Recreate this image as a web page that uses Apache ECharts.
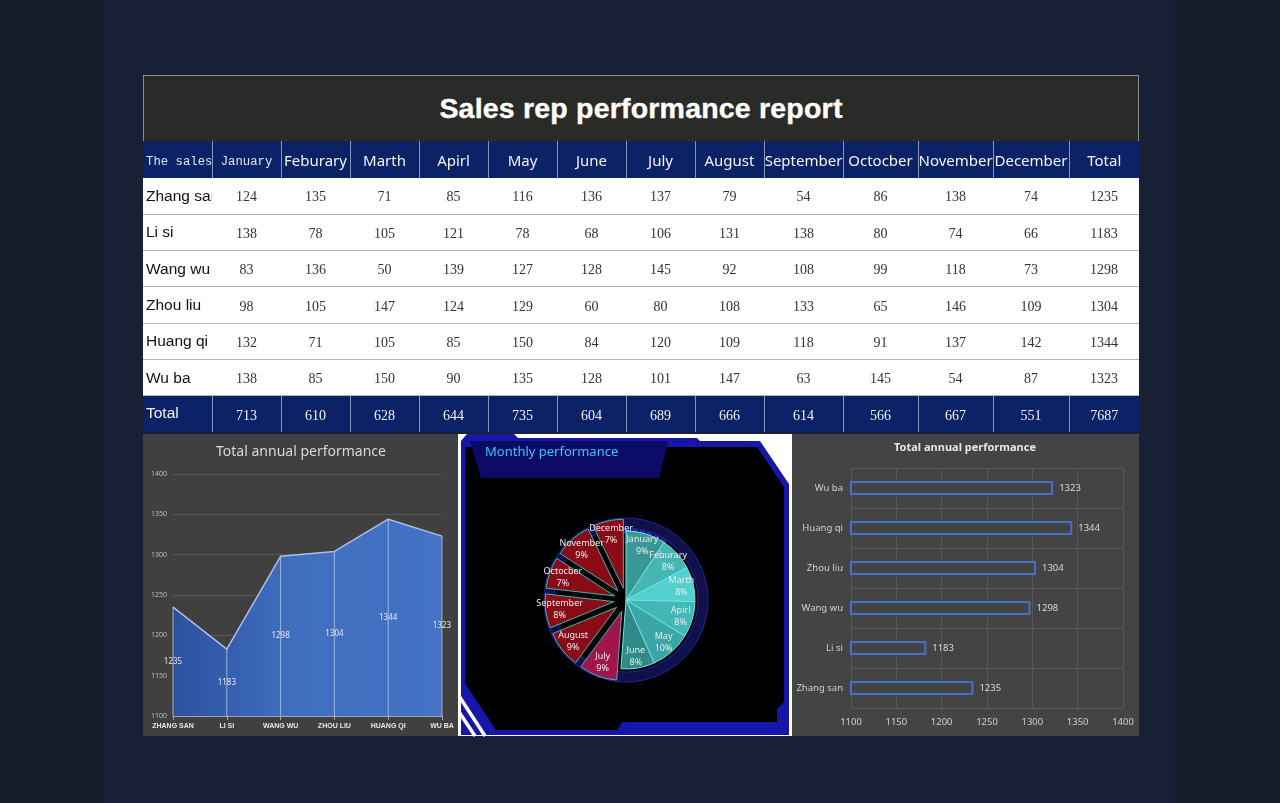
<!DOCTYPE html>
<html>
<head>
<meta charset="utf-8">
<script src="https://cdn.jsdelivr.net/npm/echarts/dist/echarts.min.js"></script>
<style>
html,body{margin:0;padding:0;width:1280px;height:803px;overflow:hidden;background:#151b29;}
#panel{position:absolute;left:104px;top:0;width:1071px;height:803px;background:#172034;}
#chart{position:absolute;left:0;top:0;width:1280px;height:803px;}
#report{position:absolute;left:143px;top:75px;width:996px;z-index:5;}
#title{height:66px;background:#2a2a28;border:1px solid #8c8c8c;border-bottom:none;box-sizing:border-box;color:#fff;font:bold 28.5px 'Liberation Sans',Arial,sans-serif;text-align:center;line-height:65px;-webkit-text-stroke:0.4px #fff;letter-spacing:0.2px;}
table{border-collapse:collapse;table-layout:fixed;width:996px;}
td{padding:0;overflow:hidden;white-space:nowrap;text-align:center;}
tr.head td,tr.tot td{background:#0b2266;color:#f2f2f2;border-left:1px solid #8796bd;}
tr.head td:first-child,tr.tot td:first-child{border-left:none;}
tr.head{height:37px;}
tr.head td{font:15px 'Noto Sans',sans-serif;}
tr.head td.mono{font:12.3px 'Liberation Mono',monospace;color:#dfe6f2;padding-top:4px;}
tr.data{height:36.33px;}
tr.data td{background:#fff;border-bottom:1px solid #b4b4b4;font:14px 'Liberation Serif',serif;color:#333;padding-top:3px;}
tr.data td.name{font:15.5px 'Liberation Sans',Arial,sans-serif;color:#111;text-align:left;padding-left:3px;padding-top:0;padding-bottom:0;}
tr.tot{height:36px;}
tr.tot td{font:14px 'Liberation Serif',serif;padding-top:3px;}
tr.tot td.name{font:15.5px 'Liberation Sans',Arial,sans-serif;text-align:left;padding-left:3px;padding-top:0;padding-bottom:2px;}
td.left{text-align:left;padding-left:3px;}
</style>
</head>
<body>
<div id="panel"></div>
<div id="chart"></div>
<div id="report">
  <div id="title">Sales rep performance report</div>
  <table id="tbl"></table>
</div>
<script>
// ---------- data ----------
const firstHeader = 'The sales';
const months = ['January','Feburary','Marth','Apirl','May','June','July','August','September','Octocber','November','December'];
const totalLabel = 'Total';
const reps = ['Zhang san','Li si','Wang wu','Zhou liu','Huang qi','Wu ba'];
const repsUpper = ['ZHANG SAN','LI SI','WANG WU','ZHOU LIU','HUANG QI','WU BA'];
const zhangSan = [124,135,71,85,116,136,137,79,54,86,138,74];
const liSi     = [138,78,105,121,78,68,106,131,138,80,74,66];
const wangWu   = [83,136,50,139,127,128,145,92,108,99,118,73];
const zhouLiu  = [98,105,147,124,129,60,80,108,133,65,146,109];
const huangQi  = [132,71,105,85,150,84,120,109,118,91,137,142];
const wuBa     = [138,85,150,90,135,128,101,147,63,145,54,87];
const repTotals = [1235,1183,1298,1304,1344,1323];
const monthTotals = [713,610,628,644,735,604,689,666,614,566,667,551];
const grandTotal = 7687;
const axisTicks = [1100,1150,1200,1250,1300,1350,1400];

// ---------- styles ----------
const colWidths = [69,69,69,69,69,69,69,69,69,79,75,75,76,70];
const sliceColors = ['#389895','#46b6b4','#53cfcf','#43b6b6','#3aa6a5','#2f8a88','#a0164a','#8a0a16','#8a0a16','#8a0a16','#8a0a16','#8a0a16'];

// ---------- table ----------
const rows = [zhangSan, liSi, wangWu, zhouLiu, huangQi, wuBa];
const tbl = document.getElementById('tbl');
let html = '<colgroup>' + colWidths.map(w => '<col style="width:' + w + 'px">').join('') + '</colgroup>';
html += '<tr class="head"><td class="mono left">' + firstHeader + '</td>';
months.forEach((m, i) => { html += '<td' + (i === 0 ? ' class="mono"' : '') + '>' + m + '</td>'; });
html += '<td>' + totalLabel + '</td></tr>';
rows.forEach((r, ri) => {
  html += '<tr class="data"><td class="name">' + reps[ri] + '</td>';
  r.forEach(v => { html += '<td>' + v + '</td>'; });
  html += '<td>' + repTotals[ri] + '</td></tr>';
});
html += '<tr class="tot"><td class="name">' + totalLabel + '</td>';
monthTotals.forEach(v => { html += '<td>' + v + '</td>'; });
html += '<td>' + grandTotal + '</td></tr>';
tbl.innerHTML = html;

// ---------- charts ----------
const chart = echarts.init(document.getElementById('chart'));
const pieCenter = [626, 600];
const frameBlue = '#1616a8';
const plain = v => String(v);
const pctLabel = p => p.name + '\n' + Math.round(p.value / grandTotal * 100) + '%';

function labelPie(radius, showFn) {
  return { type:'pie', center:pieCenter, radius:[0, radius], startAngle:90, silent:true, z:3,
    avoidLabelOverlap:false, labelLayout:{ hideOverlap:false },
    itemStyle:{ color:'rgba(0,0,0,0)', borderWidth:0 }, labelLine:{ show:false },
    label:{ show:true, position:'inside', color:'#ececec', fontSize:9, lineHeight:12, fontFamily:'Noto Sans', textBorderWidth:0,
      formatter: pctLabel },
    data: months.map((m,i) => ({ name:m, value:monthTotals[i], label:{ show:showFn(i) } })) };
}

const option = {
  animation: false,
  graphic: { elements: [
    { type:'rect', z:-10, silent:true, shape:{x:143,y:434,width:315,height:302}, style:{fill:'#404040'} },
    { type:'rect', z:-10, silent:true, shape:{x:792,y:434,width:347,height:302}, style:{fill:'#444444'} },
    { type:'rect', z:-10, silent:true, shape:{x:458,y:434,width:334,height:302}, style:{fill:'#ffffff'} },
    { type:'polygon', z:-9, silent:true, shape:{points:[[461,441],[467,434],[514,434],[518,438],[697,438],[700,441],[760,441],[789,484],[789,735],[461,735]]}, style:{fill:frameBlue} },
    { type:'polygon', z:-8, silent:true, shape:{points:[[465,447],[757,447],[784,487],[784,702],[777,709],[777,722],[622,722],[617,730],[496,730],[465,683]]}, style:{fill:'#000000'} },
    { type:'line', z:-7, silent:true, shape:{x1:459,y1:696,x2:485,y2:736}, style:{stroke:'#ffffff',lineWidth:3.5} },
    { type:'line', z:-7, silent:true, shape:{x1:459,y1:712,x2:475,y2:736}, style:{stroke:'#ffffff',lineWidth:3.5} },
    { type:'polygon', z:-7, silent:true, shape:{points:[[470,441],[668,441],[659,478],[481,478]]}, style:{fill:'#0c0b68'} },
    { type:'text', z:-6, silent:true, x:485, y:452, style:{text:'Monthly performance', fill:'#40c4ec', font:'13px "Noto Sans"', verticalAlign:'middle'} },
    { type:'text', z:-6, silent:true, x:301, y:452, style:{text:'Total annual performance', fill:'#d9d9d9', font:'14px "Noto Sans"', align:'center', verticalAlign:'middle'} },
    { type:'text', z:-6, silent:true, x:965, y:448, style:{text:'Total annual performance', fill:'#e6e6e6', font:'bold 11px "Noto Sans"', align:'center', verticalAlign:'middle'} }
  ]},
  grid: [
    { left:173, top:474, width:269, height:242 },
    { left:851, top:468, width:272, height:240 }
  ],
  xAxis: [
    { gridIndex:0, type:'category', data:repsUpper, boundaryGap:false,
      axisLine:{ lineStyle:{ color:'#a6a6a6' } }, axisTick:{ show:true, length:4, lineStyle:{ color:'#a6a6a6' } },
      axisLabel:{ interval:0, fontSize:7, fontWeight:'bold', color:'#e6e6e6', fontFamily:'Liberation Sans', margin:7 },
      splitLine:{ show:false } },
    { gridIndex:1, type:'value', min:axisTicks[0], max:axisTicks[axisTicks.length-1], interval:50,
      axisLine:{ show:false }, axisTick:{ show:false },
      axisLabel:{ fontSize:9.5, color:'#d0d0d0', fontFamily:'Noto Sans', margin:9, formatter:plain },
      splitLine:{ show:true, lineStyle:{ color:'#585858' } } }
  ],
  yAxis: [
    { gridIndex:0, type:'value', min:axisTicks[0], max:axisTicks[axisTicks.length-1], interval:50,
      axisLine:{ show:false }, axisTick:{ show:false },
      axisLabel:{ fontSize:7, color:'#bfbfbf', fontFamily:'Noto Sans', margin:6, formatter:plain },
      splitLine:{ show:true, lineStyle:{ color:'#565656' } } },
    { gridIndex:1, type:'category', data:reps,
      axisLine:{ show:false }, axisTick:{ show:false },
      axisLabel:{ fontSize:9.5, color:'#d0d0d0', fontFamily:'Noto Sans', margin:8 },
      splitLine:{ show:true, lineStyle:{ color:'#585858' } } }
  ],
  series: [
    { type:'line', xAxisIndex:0, yAxisIndex:0, data:repTotals, symbol:'none', z:2,
      lineStyle:{ color:'#a9bfe6', width:1.5 },
      areaStyle:{ origin:'start', opacity:1,
        color: new echarts.graphic.LinearGradient(0,0,1,0,[{offset:0,color:'#2b519e'},{offset:0.45,color:'#416fc0'},{offset:1,color:'#4472c4'}]) } },
    { type:'bar', xAxisIndex:0, yAxisIndex:0, data:repTotals, barWidth:1, z:3,
      itemStyle:{ color:'rgba(200,212,238,0.7)' },
      label:{ show:true, position:'inside', color:'#e8e8e8', fontSize:8, fontFamily:'Noto Sans', textBorderWidth:0 } },
    { type:'bar', xAxisIndex:1, yAxisIndex:1, data:repTotals, barWidth:14,
      itemStyle:{ color:'#444444', borderColor:'#4472c4', borderWidth:2 },
      label:{ show:true, position:'right', color:'#d9d9d9', fontSize:9.5, fontFamily:'Noto Sans', distance:6 } },
    { type:'pie', center:pieCenter, radius:[72,82], silent:true, z:1,
      data:[{ value:grandTotal, name:'ring' }], label:{ show:false }, labelLine:{ show:false },
      itemStyle:{ color:'#10104c', borderColor:'#24249a', borderWidth:1 } },
    { type:'gauge', center:pieCenter, radius:85, startAngle:89, endAngle:58, splitNumber:5, silent:true, z:1,
      axisLine:{ show:false }, axisTick:{ show:false }, axisLabel:{ show:false }, pointer:{ show:false },
      detail:{ show:false }, title:{ show:false }, progress:{ show:false },
      splitLine:{ show:true, distance:0, length:9, lineStyle:{ color:'#2626a6', width:6 } },
      data:[] },
    { type:'pie', center:pieCenter, radius:[0,69], startAngle:90, selectedMode:'multiple', selectedOffset:12, z:2,
      avoidLabelOverlap:false, emphasis:{ scale:false }, label:{ show:false }, labelLine:{ show:false },
      data: months.map((m,i) => ({ name:m, value:monthTotals[i], selected:i>=6,
        itemStyle:{ color:sliceColors[i], borderColor: i<6 ? '#6ee6e6' : '#3ab8b0', borderWidth:1 } })) },
    labelPie(108, i => i < 6),
    labelPie(128, i => i >= 6)
  ]
};
chart.setOption(option);
</script>
</body>
</html>
